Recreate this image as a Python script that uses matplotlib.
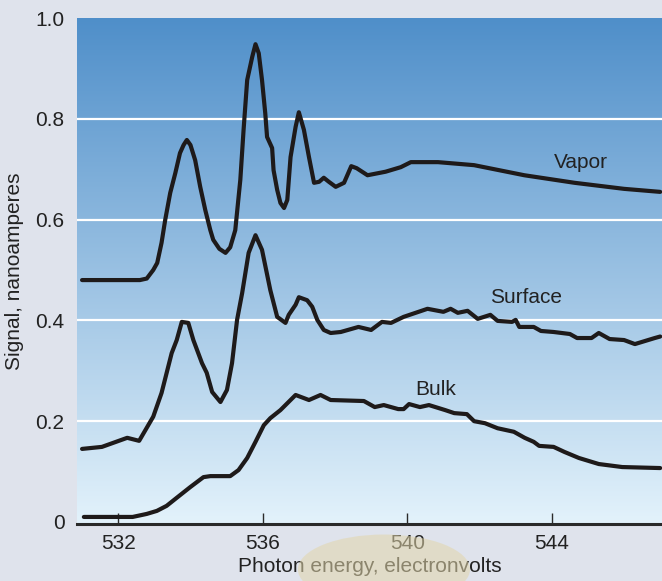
import numpy as np
import matplotlib
matplotlib.use("Agg")
import matplotlib.pyplot as plt
from matplotlib.patches import Ellipse

plt.rcParams['font.family'] = ['Liberation Sans', 'DejaVu Sans']

# ---- data ----
vapor_x = [531.0, 532.05, 532.6, 532.79, 532.97, 533.08, 533.2, 533.3, 533.44, 533.58, 533.71,
           533.81, 533.9, 534.0, 534.13, 534.27, 534.41, 534.55, 534.63, 534.8, 534.97, 535.1,
           535.24, 535.38, 535.47, 535.57, 535.71, 535.8, 535.89, 535.98, 536.07, 536.12,
           536.26, 536.3, 536.4, 536.49, 536.59, 536.68, 536.77, 536.91, 537.0, 537.14,
           537.28, 537.42, 537.56, 537.69, 537.83, 538.02, 538.25, 538.45, 538.6, 538.9,
           539.4, 539.82, 540.1, 540.85, 541.85, 543.24, 544.63, 546.0, 547.0]
vapor_y = [0.48, 0.48, 0.48, 0.483, 0.50, 0.514, 0.554, 0.599, 0.653, 0.692, 0.732,
           0.748, 0.758, 0.748, 0.718, 0.665, 0.619, 0.579, 0.56, 0.542, 0.534, 0.545,
           0.579, 0.679, 0.778, 0.877, 0.923, 0.948, 0.93, 0.877, 0.811, 0.764,
           0.742, 0.698, 0.659, 0.633, 0.623, 0.639, 0.724, 0.784, 0.813, 0.778,
           0.724, 0.673, 0.675, 0.683, 0.675, 0.665, 0.673, 0.706, 0.702, 0.688,
           0.695, 0.704, 0.714, 0.714, 0.708, 0.688, 0.673, 0.661, 0.655]

surface_x = [531.0, 531.55, 532.25, 532.58, 532.97, 533.2, 533.48, 533.62, 533.76, 533.94,
             534.08, 534.32, 534.45, 534.6, 534.83, 535.01, 535.15, 535.29, 535.43, 535.61,
             535.8, 535.98, 536.21, 536.4, 536.63, 536.72, 536.91, 537.0, 537.23, 537.37,
             537.51, 537.69, 537.88, 538.16, 538.65, 539.0, 539.3, 539.55, 539.9, 540.56,
             541.0, 541.2, 541.4, 541.67, 541.95, 542.3, 542.5, 542.9, 543.0, 543.1, 543.5,
             543.7, 544.05, 544.5, 544.7, 545.1, 545.3, 545.6, 546.0, 546.3, 546.85, 547.0]
surface_y = [0.145, 0.149, 0.167, 0.161, 0.209, 0.256, 0.335, 0.361, 0.397, 0.395,
             0.361, 0.315, 0.296, 0.258, 0.238, 0.262, 0.315, 0.401, 0.454, 0.534,
             0.569, 0.540, 0.46, 0.407, 0.395, 0.411, 0.431, 0.446, 0.440, 0.427,
             0.401, 0.381, 0.375, 0.377, 0.387, 0.381, 0.397, 0.395, 0.407, 0.423,
             0.417, 0.423, 0.415, 0.419, 0.403, 0.411, 0.399, 0.397, 0.401, 0.387, 0.387,
             0.379, 0.377, 0.373, 0.365, 0.365, 0.375, 0.363, 0.361, 0.353, 0.365, 0.368]

bulk_x = [531.05, 532.4, 532.79, 533.07, 533.34, 533.62, 533.99, 534.36, 534.55, 535.1,
          535.33, 535.57, 535.8, 536.03, 536.21, 536.49, 536.77, 536.91, 537.28, 537.6,
          537.88, 538.8, 539.1, 539.35, 539.75, 539.9, 540.05, 540.35, 540.6, 541.05, 541.3,
          541.65, 541.85, 542.15, 542.5, 542.95, 543.25, 543.5, 543.65, 544.05, 544.35,
          544.75, 545.3, 545.95, 547.0]
bulk_y = [0.010, 0.010, 0.016, 0.022, 0.032, 0.048, 0.069, 0.089, 0.091, 0.091,
          0.103, 0.127, 0.159, 0.192, 0.206, 0.222, 0.242, 0.252, 0.242, 0.252,
          0.242, 0.240, 0.228, 0.232, 0.224, 0.224, 0.234, 0.228, 0.232, 0.222, 0.216,
          0.214, 0.200, 0.196, 0.186, 0.179, 0.167, 0.159, 0.151, 0.149, 0.139,
          0.127, 0.115, 0.109, 0.107]

series_labels = ["Vapor", "Surface", "Bulk"]
label_pos = [(544.8, 0.714), (543.3, 0.445), (540.8, 0.262)]
x_ticks = [532, 536, 540, 544]
y_ticks = [0, 0.2, 0.4, 0.6, 0.8, 1.0]
y_ticklabels = ["0", "0.2", "0.4", "0.6", "0.8", "1.0"]

# ---- figure ----
fig = plt.figure(figsize=(6.62, 5.81), dpi=100)
fig.patch.set_facecolor('#dfe3ec')
# faint sandy patch of the background photo
fig.patches.append(Ellipse((0.58, 0.02), 0.26, 0.12, transform=fig.transFigure,
                           facecolor='#e2d6ab', edgecolor='none', alpha=0.55, zorder=0))

ax = fig.add_axes([77/662, (581-524)/581, (662-77)/662, (524-18)/581])
ax.set_xlim(530.86, 547.05)
ax.set_ylim(-0.004, 1.0)

# gradient background
top = np.array([0.31, 0.56, 0.79])
bot = np.array([0.89, 0.95, 0.985])
t = np.linspace(0, 1, 256)[:, None]
grad = (top * (1 - t) + bot * t)[:, None, :]
ax.imshow(grad, extent=[0, 1, 0, 1], transform=ax.transAxes, aspect='auto', zorder=0)

for y in y_ticks[1:-1]:
    ax.axhline(y, color='white', lw=1.6, zorder=1)

for xs, ys in [(vapor_x, vapor_y), (surface_x, surface_y), (bulk_x, bulk_y)]:
    ax.plot(xs, ys, color='#1e1a1a', lw=3.0, solid_joinstyle='round',
            solid_capstyle='round', zorder=3)

for lab, (lx, ly) in zip(series_labels, label_pos):
    ax.text(lx, ly, lab, fontsize=15, color='#222222', ha='center', va='center', zorder=4)

for s in ['top', 'right', 'left']:
    ax.spines[s].set_visible(False)
ax.spines['bottom'].set_linewidth(2.2)
ax.spines['bottom'].set_color('#2a2a2a')

ax.set_xticks(x_ticks)
ax.set_xticklabels([str(v) for v in x_ticks])
ax.set_yticks(y_ticks)
ax.set_yticklabels(y_ticklabels)
ax.tick_params(axis='x', direction='in', length=8, width=1.0, color='#2a2a2a',
               labelsize=15, pad=7, labelcolor='#222222')
ax.tick_params(axis='y', length=0, labelsize=15, pad=9, labelcolor='#222222')

ax.set_xlabel("Photon energy, electronvolts", fontsize=15, color='#222222', labelpad=3)
ax.set_ylabel("Signal, nanoamperes", fontsize=15, color='#222222', labelpad=8)

fig.savefig("out.png", dpi=100, facecolor=fig.get_facecolor())
